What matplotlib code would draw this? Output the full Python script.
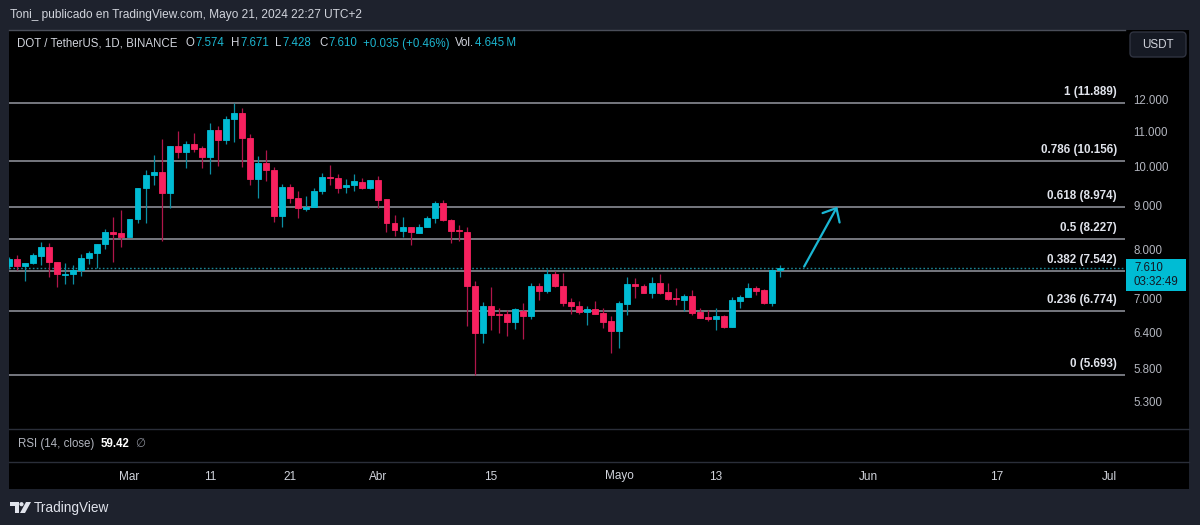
import matplotlib
matplotlib.use('Agg')
import matplotlib.pyplot as plt
import matplotlib.dates as mdates
import matplotlib.transforms as mtransforms
from matplotlib.patches import Rectangle, FancyBboxPatch, Polygon, Circle
from matplotlib.lines import Line2D
from matplotlib.ticker import NullLocator, FixedLocator, FixedFormatter
import pandas as pd

plt.rcParams['font.family'] = ['Liberation Sans', 'DejaVu Sans']

# ---------------- data ----------------
start_date = '2024-02-15'
opens = [7.651, 7.790, 7.657, 7.706, 7.861, 8.048, 7.740, 7.473, 7.487, 7.568, 7.818, 7.918, 8.113, 8.388, 8.358,
         8.282, 8.681, 9.441, 9.798, 9.878, 9.328, 10.574, 10.413, 10.640, 10.517, 10.273, 11.059, 10.744, 11.374,
         11.561, 10.823, 9.679, 10.099, 9.918, 8.758, 9.469, 9.187, 8.932, 8.966, 9.371, 9.738, 9.704, 9.465,
         9.524, 9.609, 9.436,
         9.653, 9.162, 8.600, 8.417, 8.494, 8.372, 8.494, 8.705, 9.063, 8.664, 8.426, 8.395, 7.254, 6.388, 6.861,
         6.719, 6.714, 6.580, 6.780, 6.683, 7.254, 7.151, 7.487, 7.254, 6.935, 6.872, 6.762, 6.811, 6.744, 6.593,
         6.418, 6.898, 7.288, 7.254, 7.118, 7.314, 7.126, 7.011, 6.979, 7.061, 6.750, 6.671, 6.624, 6.683, 6.482,
         6.966, 7.030, 7.215, 7.170, 6.916, 7.574]
highs = [7.850, 7.882, 7.719, 7.931, 8.164, 8.135, 7.740, 7.706, 7.671, 7.903, 7.974, 8.113, 8.462, 8.728, 8.906,
         8.681, 9.441, 9.918, 10.320, 10.776, 10.574, 11.011, 10.718, 10.970, 10.583, 11.262, 11.161, 11.487, 11.889,
         11.716, 10.923, 10.288, 10.469, 10.007, 9.563, 9.563, 9.371, 9.245, 9.436, 9.851, 10.062, 9.825, 9.671,
         9.825, 9.697, 9.653,
         9.758, 9.162, 8.782, 8.728, 8.494, 8.570, 8.758, 9.120, 9.145, 8.681, 8.547, 8.494, 7.347, 6.935, 7.223,
         6.835, 6.793, 6.835, 6.928, 7.302, 7.302, 7.588, 7.548, 7.501, 7.023, 6.960, 6.872, 6.960, 6.835, 6.683,
         6.960, 7.420, 7.412, 7.282, 7.420, 7.487, 7.314, 7.203, 7.093, 7.170, 6.824, 6.793, 6.835, 6.701, 7.030,
         7.074, 7.314, 7.254, 7.184, 7.590, 7.671]
lows = [7.600, 7.568, 7.353, 7.692, 7.671, 7.433, 7.235, 7.288, 7.288, 7.453, 7.692, 7.603, 8.004, 7.740, 8.061,
        8.268, 8.600, 8.600, 9.524, 8.186, 8.942, 10.237, 9.963, 10.421, 9.979, 9.811, 10.026, 10.640, 10.698,
        10.007, 9.524, 9.203, 9.627, 8.624, 8.508, 9.078, 8.718, 8.877, 8.966, 9.295, 9.532, 9.328, 9.328,
        9.378, 9.414, 9.421,
        8.942, 8.395, 8.298, 8.282, 8.098, 8.358, 8.494, 8.600, 8.647, 8.135, 8.193, 6.511, 5.693, 6.207, 6.435,
        6.388, 6.337, 6.453, 6.280, 6.624, 6.979, 7.106, 7.223, 6.866, 6.719, 6.719, 6.523, 6.714, 6.476, 6.052,
        6.134, 6.701, 7.023, 7.106, 7.023, 7.087, 6.979, 6.885, 6.780, 6.701, 6.641, 6.599, 6.435, 6.476, 6.482,
        6.835, 7.030, 7.074, 6.898, 6.866, 7.428]
closes = [7.790, 7.651, 7.719, 7.876, 8.048, 7.740, 7.481, 7.493, 7.574, 7.825, 7.925, 8.113, 8.381, 8.349, 8.282,
          8.681, 9.441, 9.798, 9.878, 9.328, 10.574, 10.413, 10.640, 10.506, 10.273, 11.059, 10.744, 11.384, 11.561,
          10.805, 9.679, 10.099, 9.910, 8.758, 9.469, 9.187, 8.942, 8.980, 9.378, 9.738, 9.704, 9.455, 9.532,
          9.619, 9.436, 9.653,
          9.152, 8.600, 8.426, 8.494, 8.381, 8.507, 8.705, 9.063, 8.664, 8.410, 8.404, 7.248, 6.388, 6.861, 6.701,
          6.701, 6.580, 6.806, 6.683, 7.254, 7.151, 7.487, 7.248, 6.928, 6.866, 6.762, 6.811, 6.719, 6.580, 6.418,
          6.916, 7.288, 7.248, 7.118, 7.314, 7.118, 6.992, 6.992, 7.061, 6.744, 6.652, 6.624, 6.683, 6.482, 6.979,
          7.042, 7.215, 7.157, 6.916, 7.575, 7.610]

fib_ratios = ['1', '0.786', '0.618', '0.5', '0.382', '0.236', '0']
fib_prices = [11.889, 10.156, 8.974, 8.227, 7.542, 6.774, 5.693]

price_ticks = [12.0, 11.0, 10.0, 9.0, 8.0, 7.0, 6.4, 5.8, 5.3]
date_ticks = ['2024-03-01', '2024-03-11', '2024-03-21', '2024-04-01', '2024-04-15',
              '2024-05-01', '2024-05-13', '2024-06-01', '2024-06-17', '2024-07-01']
date_labels = ['Mar', '11', '21', 'Abr', '15', 'Mayo', '13', 'Jun', '17', 'Jul']

last_price = 7.610
countdown = '03:32:49'
arrow_start = ('2024-05-24 00:00', 7.64)
arrow_end = ('2024-05-28 03:00', 8.985)

header = 'Toni_ publicado en TradingView.com, Mayo 21, 2024 22:27 UTC+2'
symbol = 'DOT / TetherUS, 1D, BINANCE'
ohlc_labels = [('O', '7.574'), ('H', '7.671'), ('L', '7.428'), ('C', '7.610')]
change_text = '+0.035 (+0.46%)'
volume_text = '4.645\u2009M'
rsi_name = 'RSI (14, close)'
rsi_value = '59.42'

# ---------------- styling ----------------
W, H = 1200, 525
BG = '#1e222d'
UP, DOWN = '#00bcd4', '#f7215f'
UP_WICK, DOWN_WICK = '#0b8fa3', '#b0164a'
TXT = '#d1d4dc'
AXTXT = '#b2b5be'
VAL = '#1cb5cf'


def fx(px):
    return px / W


def fy(py):
    return 1 - py / H


fig = plt.figure(figsize=(12, 5.25), dpi=100, facecolor=BG)
renderer = fig.canvas.get_renderer()

# black chart panel
fig.add_artist(Rectangle((fx(9), fy(489)), fx(1189) - fx(9), fy(30) - fy(489),
                         transform=fig.transFigure, facecolor='black', edgecolor='none', zorder=0))
for yy in (428.5, 461.5):
    fig.add_artist(Line2D([fx(9), fx(1189)], [fy(yy), fy(yy)], color='#2a2e39', lw=1.0, zorder=1))
fig.add_artist(Line2D([fx(9), fx(1125)], [fy(29.5), fy(29.5)], color='#4a4e59', lw=1.0, zorder=1))

ax = fig.add_axes([fx(9), fy(428), fx(1125) - fx(9), fy(30) - fy(428)])
ax.set_facecolor('black')
for s in ax.spines.values():
    s.set_visible(False)

dates = pd.date_range(start_date, periods=len(opens), freq='D')
xs = mdates.date2num(dates)
x_mar = mdates.date2num(pd.Timestamp('2024-03-01'))

ax.set_yscale('log')
ax.set_ylim(4.939, 14.48)
ax.set_xlim(x_mar - 15.0, x_mar + 123.95)

# fib lines
for r, p in zip(fib_ratios, fib_prices):
    ax.axhline(p, color='#9598a1', lw=1.1, zorder=1)
    tr = mtransforms.blended_transform_factory(ax.transAxes, ax.transData)
    tr = mtransforms.offset_copy(tr, fig=fig, y=5, units='dots')
    ax.text(0.9928, p, f'{r} ({p:.3f})', transform=tr, ha='right', va='bottom',
            color='#e0e3eb', fontsize=8.4, fontweight='bold', zorder=5)

# current price dotted line
ax.axhline(last_price, color='#1b8595', lw=1.0, ls=(0, (1.2, 1.6)), zorder=2)

# candles
is_up = [c >= o for o, c in zip(opens, closes)]
body_col = [UP if u else DOWN for u in is_up]
wick_col = [UP_WICK if u else DOWN_WICK for u in is_up]
ax.vlines(xs, lows, highs, colors=wick_col, lw=0.9, zorder=3)
bottoms = [min(o, c) for o, c in zip(opens, closes)]
heights = [abs(c - o) for o, c in zip(opens, closes)]
ax.bar(xs, heights, bottom=bottoms, width=0.74, color=body_col, edgecolor=body_col,
       linewidth=0.6, zorder=4)

# arrow
ax.annotate('', xy=(mdates.date2num(pd.Timestamp(arrow_end[0])), arrow_end[1]),
            xytext=(mdates.date2num(pd.Timestamp(arrow_start[0])), arrow_start[1]),
            arrowprops=dict(arrowstyle='->,head_length=0.8,head_width=0.7', color='#1ab6d3',
                            lw=1.6, shrinkA=0, shrinkB=0, mutation_scale=10), zorder=6)

# price axis
ax.yaxis.tick_right()
ax.yaxis.set_major_locator(FixedLocator(price_ticks))
ax.yaxis.set_major_formatter(FixedFormatter([f'{v:.3f}' for v in price_ticks]))
ax.yaxis.set_minor_locator(NullLocator())
ax.tick_params(axis='y', length=0, pad=6, labelcolor=AXTXT, labelsize=8.3)
ax.set_xticks([])
ax.xaxis.set_minor_locator(NullLocator())

# date labels
dtr = mtransforms.blended_transform_factory(ax.transData, fig.transFigure)
for d, lab in zip(date_ticks, date_labels):
    fig.text(mdates.date2num(pd.Timestamp(d)), fy(476.5), lab, transform=dtr, ha='center', va='center',
             color=TXT, fontsize=8.5)

# current price label box
yd = ax.transData.transform((x_mar, last_price))[1]
py_price = H - yd
fig.add_artist(Rectangle((fx(1126), fy(py_price + 23)), fx(1186) - fx(1126), fy(py_price - 9) - fy(py_price + 23),
                         transform=fig.transFigure, facecolor='#00bcd4', edgecolor='none', zorder=5))
fig.text(fx(1134), fy(py_price), f'{last_price:.3f}', color='#131722', fontsize=8.3, va='center', ha='left', zorder=6)
fig.text(fx(1134), fy(py_price + 14), countdown, color='#131722', fontsize=8.3, va='center', ha='left', zorder=6)

# USDT box
usdt = FancyBboxPatch((1130, H - 57), 56, 25, boxstyle='round,pad=0,rounding_size=4',
                      transform=mtransforms.IdentityTransform(), facecolor='#161a24',
                      edgecolor='#2f3340', lw=1.0, zorder=5)
fig.add_artist(usdt)
fig.text(fx(1158), fy(44.5), 'USDT', color=TXT, fontsize=8.4, ha='center', va='center', zorder=6)

# header
fig.text(fx(10), fy(15), header, color=TXT, fontsize=8.6, va='center', ha='left')


def chain(x_px, y_px, pieces, size=8.3):
    x = x_px
    for s, col, weight, gap in pieces:
        t = fig.text(fx(x), fy(y_px), s, color=col, fontsize=size, fontweight=weight, va='center', ha='left')
        bb = t.get_window_extent(renderer=renderer)
        x = x + bb.width + gap
    return x


chain(17, 43.5, [(symbol, TXT, 'normal', 0)])
for (lab, val), xp in zip(ohlc_labels, [186, 231, 275, 319]):
    chain(xp, 43.5, [(lab, TXT, 'normal', 1), (val, VAL, 'normal', 0)])
chain(363, 43.5, [(change_text, VAL, 'normal', 0)])
chain(455, 43.5, [('Vol.', TXT, 'normal', 0.5), (volume_text, VAL, 'normal', 0)])

# RSI pane label
chain(18, 444, [(rsi_name, AXTXT, 'normal', 6), (rsi_value, '#ffffff', 'bold', 6), ('\u2205', '#868993', 'normal', 0)])

# footer logo + text
IT = mtransforms.IdentityTransform()
fig.add_artist(Polygon([(10, H - 502), (18.5, H - 502), (18.5, H - 513), (14.5, H - 513), (14.5, H - 506), (10, H - 506)],
                       closed=True, transform=IT, facecolor='#e0e3eb', edgecolor='none'))
fig.add_artist(Circle((21.5, H - 504.2), 2.1, transform=IT, facecolor='#e0e3eb', edgecolor='none'))
fig.add_artist(Polygon([(26, H - 502), (31, H - 502), (25, H - 513), (20, H - 513)],
                       closed=True, transform=IT, facecolor='#e0e3eb', edgecolor='none'))
fig.text(fx(34), fy(508), 'TradingView', color='#e0e3eb', fontsize=9.8, va='center', ha='left')

fig.savefig('out.png', dpi=100, facecolor=fig.get_facecolor())
